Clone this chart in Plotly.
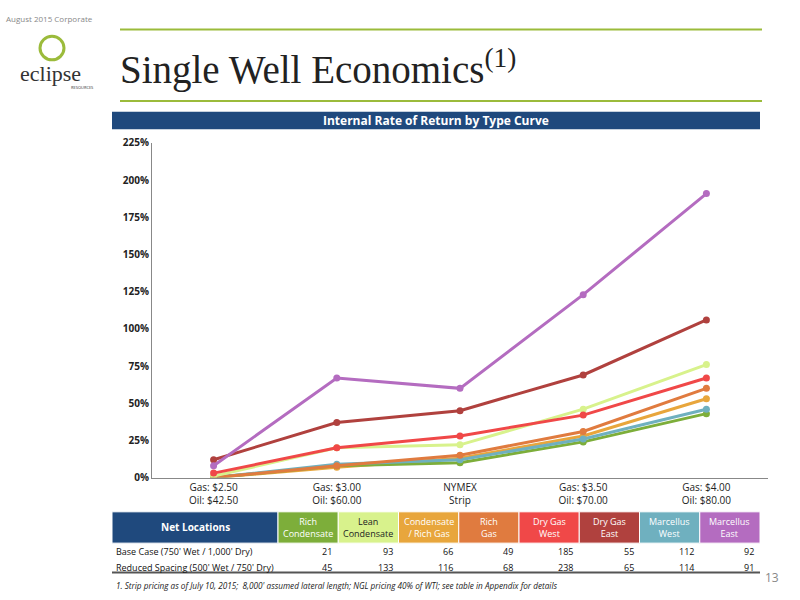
import plotly.graph_objects as go

categories = ["Gas: $2.50<br>Oil: $42.50", "Gas: $3.00<br>Oil: $60.00", "NYMEX<br>Strip",
              "Gas: $3.50<br>Oil: $70.00", "Gas: $4.00<br>Oil: $80.00"]
series_names = ["Rich Condensate", "Lean Condensate", "Condensate / Rich Gas", "Rich Gas",
                "Dry Gas West", "Dry Gas East", "Marcellus West", "Marcellus East"]
rich_condensate = [0, 8, 10, 24, 43]
lean_condensate = [1, 20, 22, 46, 76]
condensate_rich_gas = [0, 7, 13, 28, 53]
rich_gas = [0, 8, 15, 31, 60]
dry_gas_west = [3, 20, 28, 42, 67]
dry_gas_east = [12, 37, 45, 69, 106]
marcellus_west = [0, 9, 12, 26, 46]
marcellus_east = [8, 67, 60, 123, 191]
colors = ["#7DAE3A", "#D8F28C", "#E8A63C", "#E07B3F", "#F04848", "#B0413E", "#6FB0BF", "#B46CC0"]
header_labels = ["Rich<br>Condensate", "Lean<br>Condensate", "Condensate<br>/ Rich Gas", "Rich<br>Gas",
                 "Dry Gas<br>West", "Dry Gas<br>East", "Marcellus<br>West", "Marcellus<br>East"]
row_labels = ["Base Case (750' Wet / 1,000' Dry)", "Reduced Spacing (500' Wet / 750' Dry)"]
base_case = [21, 93, 66, 49, 185, 55, 112, 92]
reduced_spacing = [45, 133, 116, 68, 238, 65, 114, 91]

all_series = [rich_condensate, lean_condensate, condensate_rich_gas, rich_gas,
              dry_gas_west, dry_gas_east, marcellus_west, marcellus_east]
draw_order = [2, 0, 6, 3, 1, 4, 5, 7]

def px(x): return x / 800
def py(y): return 1 - y / 600

fig = go.Figure()
for i in draw_order:
    fig.add_trace(go.Scatter(x=list(range(5)), y=all_series[i], name=series_names[i], mode="lines+markers",
                             line=dict(color=colors[i], width=3), marker=dict(size=7, color=colors[i])))

F = "Open Sans"
shapes = []
ann = []

def text(t, x, y, size, color="#222", xanchor="center", family=F):
    ann.append(dict(text=t, x=px(x), y=py(y), xref="paper", yref="paper", xanchor=xanchor, yanchor="middle",
                    showarrow=False, font=dict(color=color, size=size, family=family)))

shapes.append(dict(type="line", xref="paper", yref="paper", x0=px(120), x1=px(762), y0=py(23), y1=py(23),
                   line=dict(color="#9BBB3B", width=2)))
shapes.append(dict(type="line", xref="paper", yref="paper", x0=px(120), x1=px(762), y0=py(96), y1=py(96),
                   line=dict(color="#9BBB3B", width=2)))
shapes.append(dict(type="rect", xref="paper", yref="paper", x0=px(112), x1=px(760), y0=py(125), y1=py(107),
                   fillcolor="#1F497D", line=dict(width=0)))
text("<b>Internal Rate of Return by Type Curve</b>", 436, 116, 12, "white")
text("Single Well Economics<sup>(1)</sup>", 118, 62, 39, "#222", "left", "Liberation Serif")
text("August 2015 Corporate", 4, 12, 8, "#888", "left")
text("eclipse", 50, 68, 22, "#333", "center", "Liberation Serif")
text("RESOURCES", 82, 82, 4, "#333")
shapes.append(dict(type="circle", xref="paper", yref="paper", x0=px(40), x1=px(64), y0=py(54), y1=py(30),
                   line=dict(color="#9BBB3B", width=3)))
text("13", 772, 583, 12, "#888")

shapes.append(dict(type="rect", xref="paper", yref="paper", x0=px(112), x1=px(278), y0=py(548), y1=py(516),
                   fillcolor="#1F497D", line=dict(color="white", width=1)))
text("<b>Net Locations</b>", 195, 532, 10, "white")
cw = (760 - 278) / 8
for j in range(8):
    x0 = 278 + j * cw
    shapes.append(dict(type="rect", xref="paper", yref="paper", x0=px(x0), x1=px(x0 + cw), y0=py(548), y1=py(516),
                       fillcolor=colors[j], line=dict(color="white", width=1)))
    text(header_labels[j], x0 + cw / 2, 532, 9, "#222" if j == 1 else "white")
    for r, vals in enumerate([base_case, reduced_spacing]):
        text(str(vals[j]), x0 + cw - 4, 557 + r * 16, 9, "#111", "right")
for r in range(2):
    text(row_labels[r], 114, 557 + r * 16, 9, "#111", "left")
shapes.append(dict(type="line", xref="paper", yref="paper", x0=px(112), x1=px(760), y0=py(578), y1=py(578),
                   line=dict(color="#555", width=2)))
text("<i>1. Strip pricing as of July 10, 2015;  8,000' assumed lateral length; NGL pricing 40% of WTI; see table in Appendix for details</i>",
     114, 591, 8.2, "#222", "left")

fig.update_layout(
    width=800, height=600, margin=dict(l=0, r=0, t=0, b=0), showlegend=False,
    plot_bgcolor="white", paper_bgcolor="white", shapes=shapes, annotations=ann,
    xaxis=dict(domain=[px(152), px(768)], range=[-0.5, 4.5], tickvals=list(range(5)), ticktext=categories,
               showline=True, linecolor="#888", linewidth=1, showgrid=False, zeroline=False,
               tickfont=dict(size=10, family=F, color="#222"), ticks=""),
    yaxis=dict(domain=[py(481), py(139)], range=[0, 225], tickvals=list(range(0, 226, 25)),
               ticktext=[f"<b>{v}%</b>" for v in range(0, 226, 25)],
               showline=True, linecolor="#888", linewidth=1, showgrid=False, zeroline=False,
               tickfont=dict(size=10, family=F, color="#222"), ticks=""),
)
fig.write_html("out.html", config={"displayModeBar": False},
               post_script="document.body.style.margin='0';document.body.style.padding='0';")
